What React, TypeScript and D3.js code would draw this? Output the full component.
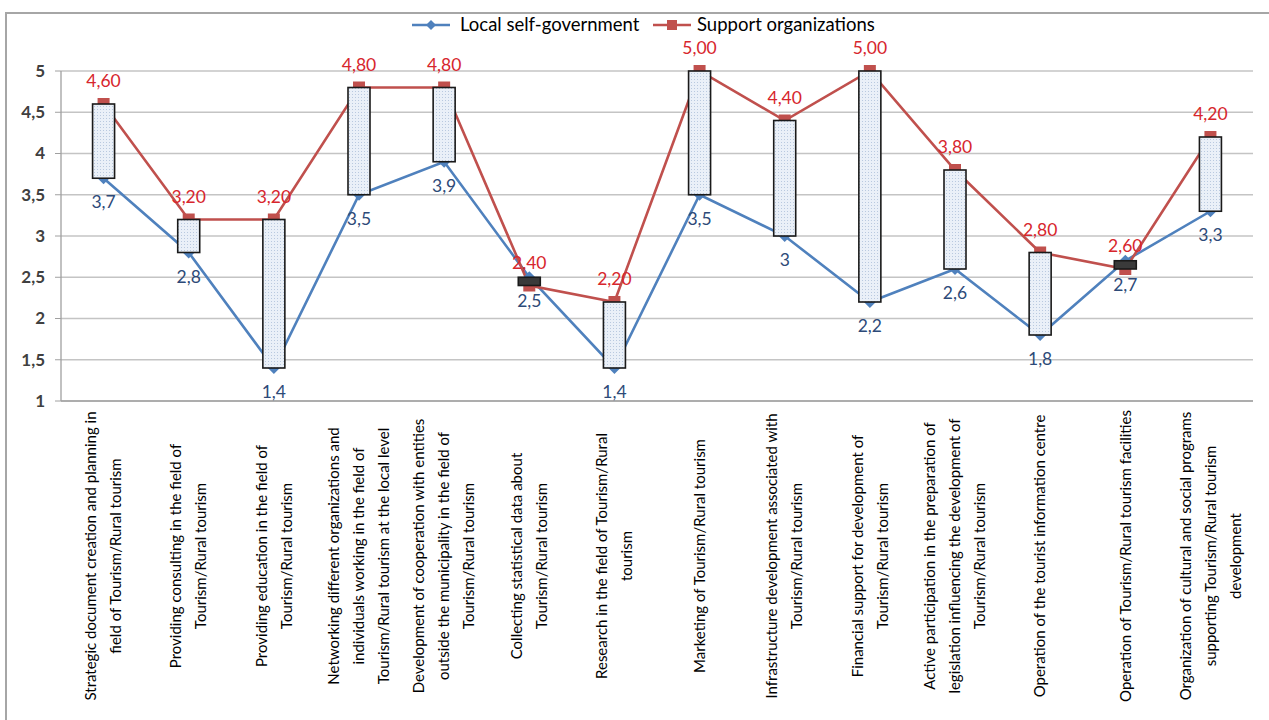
import * as d3 from "d3"

const CATEGORIES: string[][] = [
  ["Strategic document creation and planning in", "field of Tourism/Rural tourism"],
  ["Providing consulting in the field of", "Tourism/Rural tourism"],
  ["Providing education in the field of", "Tourism/Rural tourism"],
  ["Networking different organizations and", "individuals working in the field of", "Tourism/Rural tourism at the local level"],
  ["Development of cooperation with entities", "outside the municipality in the field of", "Tourism/Rural tourism"],
  ["Collecting statistical data about", "Tourism/Rural tourism"],
  ["Research in the field of Tourism/Rural", "tourism"],
  ["Marketing of Tourism/Rural tourism"],
  ["Infrastructure development associated with", "Tourism/Rural tourism"],
  ["Financial support for development of", "Tourism/Rural tourism"],
  ["Active participation in the preparation of", "legislation influencing the development of", "Tourism/Rural tourism"],
  ["Operation of the tourist information centre"],
  ["Operation of Tourism/Rural tourism facilities"],
  ["Organization of cultural and social programs", "supporting Tourism/Rural tourism", "development"],
]

const LOCAL_VALUES = [3.7, 2.8, 1.4, 3.5, 3.9, 2.5, 1.4, 3.5, 3, 2.2, 2.6, 1.8, 2.7, 3.3]
const SUPPORT_VALUES = [4.6, 3.2, 3.2, 4.8, 4.8, 2.4, 2.2, 5.0, 4.4, 5.0, 3.8, 2.8, 2.6, 4.2]
const Y_TICKS = [1, 1.5, 2, 2.5, 3, 3.5, 4, 4.5, 5]

const SERIES_NAMES = ["Local self-government", "Support organizations"]

const BLUE = "#4f81bd"
const RED = "#c0504d"
const FONT = "Lato, 'Open Sans', sans-serif"

const PLOT = { left: 61, right: 1253, top: 71, bottom: 401 }

const comma = (s: string) => s.replace(".", ",")

export default function App() {
  const idx = CATEGORIES.map((_, i) => i)
  const x = d3
    .scaleBand<number>()
    .domain(idx)
    .range([PLOT.left, PLOT.right])
  const y = d3.scaleLinear().domain([1, 5]).range([PLOT.bottom, PLOT.top])
  const cx = (i: number) => (x(i) ?? 0) + x.bandwidth() / 2

  const lineGen = d3
    .line<number>()
    .x((_, i) => cx(i))
    .y((d) => y(d))

  const diamond = (px: number, py: number, r: number) =>
    `M${px},${py - r}L${px + r},${py}L${px},${py + r}L${px - r},${py}Z`

  const boxW = 22

  return (
    <svg
      width={1269}
      height={720}
      style={{ position: "absolute", left: 0, top: 0, fontFamily: FONT }}
    >
      <defs>
        <pattern id="dots" width={3} height={3} patternUnits="userSpaceOnUse">
          <rect width={3} height={3} fill="#eaf0f8" />
          <rect x={1} y={1} width={1} height={1} fill="#b9c9df" />
        </pattern>
      </defs>
      <rect width={1269} height={720} fill="white" />
      <rect
        x={6}
        y={13}
        width={1280}
        height={720}
        fill="none"
        stroke="#a6a6a6"
        strokeWidth={2}
      />

      {/* gridlines */}
      {Y_TICKS.map((t) => (
        <g key={t}>
          <line
            x1={PLOT.left}
            x2={PLOT.right}
            y1={y(t)}
            y2={y(t)}
            stroke="#c4c4c4"
            strokeWidth={1.3}
          />
          <line
            x1={PLOT.left - 6}
            x2={PLOT.left}
            y1={y(t)}
            y2={y(t)}
            stroke="#a0a0a0"
          />
          <text
            x={45}
            y={y(t)}
            dy="0.35em"
            textAnchor="end"
            fontSize={17}
            fontWeight={700}
            fill="#404040"
          >
            {comma(String(t))}
          </text>
        </g>
      ))}
      <line
        x1={PLOT.left}
        x2={PLOT.left}
        y1={PLOT.top}
        y2={PLOT.bottom}
        stroke="#a0a0a0"
        strokeWidth={1.3}
      />
      <line
        x1={PLOT.left}
        x2={PLOT.right}
        y1={PLOT.bottom}
        y2={PLOT.bottom}
        stroke="#a0a0a0"
        strokeWidth={1.3}
      />

      {/* series lines */}
      <path d={lineGen(LOCAL_VALUES) ?? ""} fill="none" stroke={BLUE} strokeWidth={2.6} />
      <path d={lineGen(SUPPORT_VALUES) ?? ""} fill="none" stroke={RED} strokeWidth={2.6} />
      {LOCAL_VALUES.map((v, i) => (
        <path key={"lm" + i} d={diamond(cx(i), y(v), 6)} fill={BLUE} />
      ))}
      {SUPPORT_VALUES.map((v, i) => (
        <rect
          key={"sm" + i}
          x={cx(i) - 6}
          y={y(v) - 6}
          width={12}
          height={12}
          fill={RED}
        />
      ))}

      {/* up/down bars */}
      {idx.map((i) => {
        const open = LOCAL_VALUES[i]
        const close = SUPPORT_VALUES[i]
        const up = close >= open
        const top = y(Math.max(open, close))
        const bottom = y(Math.min(open, close))
        return (
          <rect
            key={"bar" + i}
            x={cx(i) - boxW / 2}
            y={top}
            width={boxW}
            height={bottom - top}
            fill={up ? "url(#dots)" : "#3a3a3a"}
            stroke="#1a1a1a"
            strokeWidth={1.6}
          />
        )
      })}

      {/* data labels */}
      {SUPPORT_VALUES.map((v, i) => (
        <text
          key={"sl" + i}
          x={cx(i)}
          y={y(v) - 17}
          textAnchor="middle"
          fontSize={17.5}
          fill="#d7262d"
        >
          {comma(v.toFixed(2))}
        </text>
      ))}
      {LOCAL_VALUES.map((v, i) => (
        <text
          key={"ll" + i}
          x={cx(i)}
          y={y(v) + 30}
          textAnchor="middle"
          fontSize={17.5}
          fill="#2d4a78"
        >
          {comma(String(v))}
        </text>
      ))}

      {/* category labels */}
      {CATEGORIES.map((lines, i) => {
        const lx = cx(i)
        const ly = 556
        return (
          <text
            key={"cat" + i}
            transform={`translate(${lx},${ly}) rotate(-90)`}
            textAnchor="middle"
            fontSize={15}
            fill="#000"
          >
            {lines.map((ln, j) => (
              <tspan
                key={j}
                x={0}
                y={(j - (lines.length - 1) / 2) * 25}
                dy="0.35em"
              >
                {ln}
              </tspan>
            ))}
          </text>
        )
      })}

      {/* legend */}
      <g fontSize={18.5} fill="#000">
        <line x1={412} x2={450} y1={25} y2={25} stroke={BLUE} strokeWidth={2.6} />
        <path d={diamond(431, 25, 5)} fill={BLUE} />
        <text x={460} y={25} dy="0.35em">
          {SERIES_NAMES[0]}
        </text>
        <line x1={653} x2={691} y1={25} y2={25} stroke={RED} strokeWidth={2.6} />
        <rect x={667} y={20} width={10} height={10} fill={RED} />
        <text x={697} y={25} dy="0.35em">
          {SERIES_NAMES[1]}
        </text>
      </g>
    </svg>
  )
}
